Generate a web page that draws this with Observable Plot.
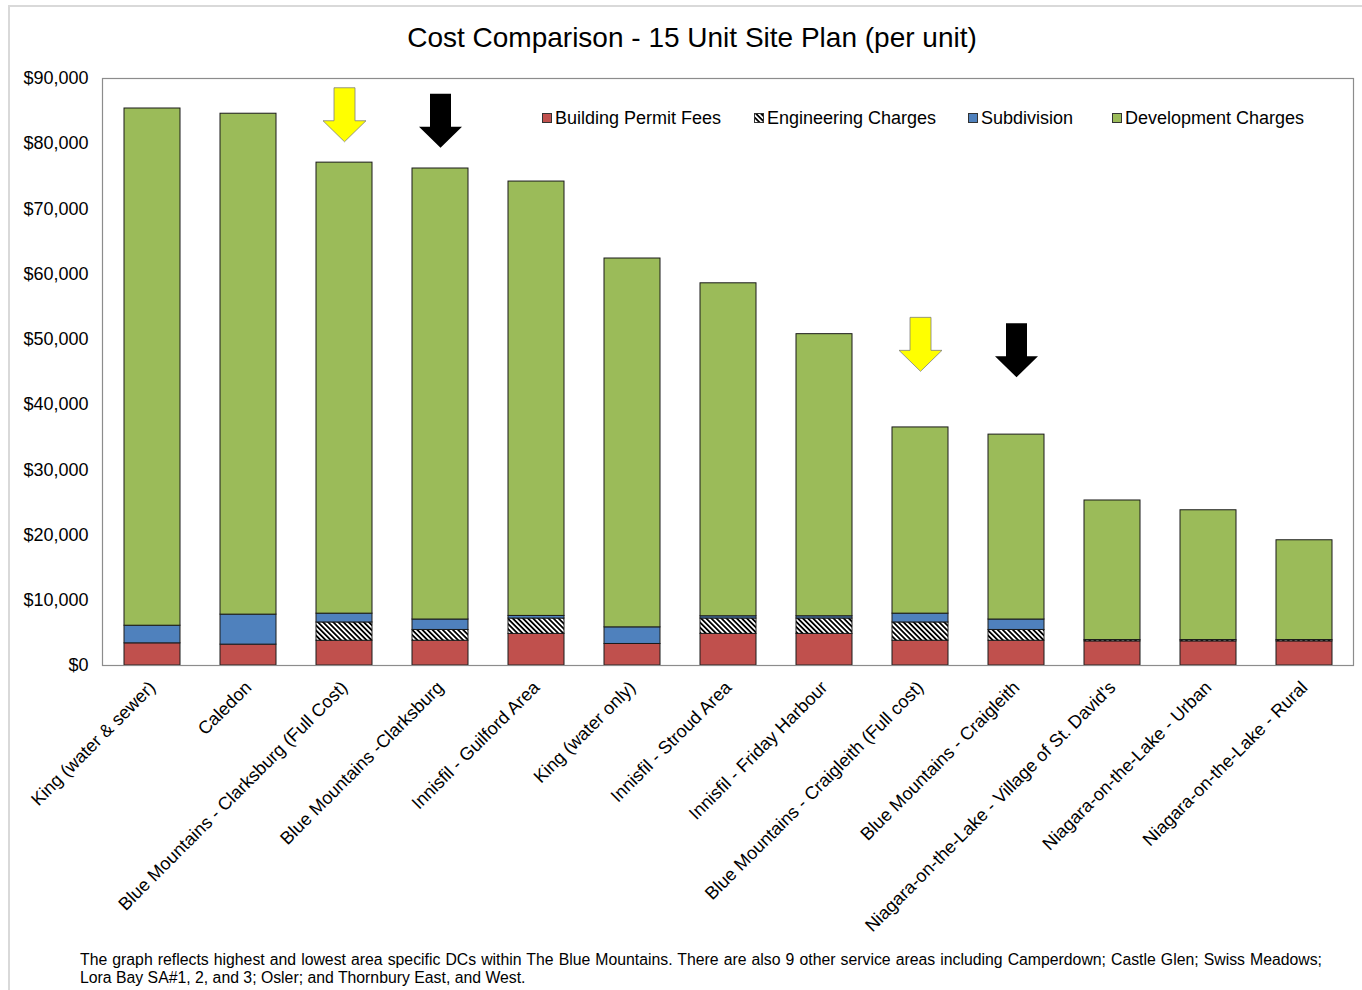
<!DOCTYPE html>
<html>
<head>
<meta charset="utf-8">
<script src="https://cdn.jsdelivr.net/npm/d3@7"></script>
<script src="https://cdn.jsdelivr.net/npm/@observablehq/plot@0.6"></script>
<style>
  html, body { margin: 0; padding: 0; background: #fff; }
  #wrap { position: relative; width: 1362px; height: 990px; overflow: hidden; font-family: "Liberation Sans", Arial, sans-serif; color: #000; }
  #border { position: absolute; left: 8px; top: 5px; width: 1360px; height: 990px; border-top: 2px solid #d9d9d9; border-left: 2px solid #d9d9d9; box-sizing: border-box; }
  #title { position: absolute; left: 0; width: 1384px; top: 22px; text-align: center; font-size: 28px; line-height: 32px; }
  #chart { position: absolute; left: 0; top: 0; }
  #legend { position: absolute; top: 108px; left: 0; height: 20px; font-size: 18px; }
  .item { position: absolute; top: 0; white-space: nowrap; line-height: 20px; display: flex; align-items: center; }
  .sw { width: 8px; height: 8px; border: 1px solid #333; margin-right: 3px; display: inline-block; box-sizing: content-box; }
  #caption { position: absolute; left: 80px; top: 951px; width: 1242px; font-size: 15.8px; line-height: 18px; }
  #caption .l1 { text-align: justify; text-align-last: justify; white-space: nowrap; }
</style>
</head>
<body>
<div id="wrap">
  <div id="border"></div>
  <div id="title"></div>
  <div id="chart"></div>
  <div id="legend"></div>
  <div id="caption"></div>
</div>
<script>
// ---- data ----
const categories = [
  "King (water & sewer)",
  "Caledon",
  "Blue Mountains - Clarksburg (Full Cost)",
  "Blue Mountains -Clarksburg",
  "Innisfil - Guilford Area",
  "King (water only)",
  "Innisfil - Stroud Area",
  "Innisfil - Friday Harbour",
  "Blue Mountains - Craigleith (Full cost)",
  "Blue Mountains - Craigleith",
  "Niagara-on-the-Lake - Village of St. David's",
  "Niagara-on-the-Lake - Urban",
  "Niagara-on-the-Lake - Rural"
];
const seriesNames = ["Building Permit Fees", "Engineering Charges", "Subdivision", "Development Charges"];
const buildingPermitFees = [3400, 3200, 3800, 3800, 4850, 3300, 4850, 4850, 3800, 3800, 3700, 3700, 3700];
const engineeringCharges = [0, 0, 2800, 1650, 2350, 0, 2350, 2350, 2800, 1650, 200, 200, 200];
const subdivision = [2700, 4600, 1350, 1600, 400, 2550, 350, 350, 1350, 1600, 0, 0, 0];
const developmentCharges = [79300, 76800, 69150, 69150, 66600, 56550, 51050, 43250, 28550, 28350, 21400, 19900, 15300];
const yTicks = [0, 10000, 20000, 30000, 40000, 50000, 60000, 70000, 80000, 90000];

// annotation arrows (tip position)
const arrowCategories = [
  "Blue Mountains - Clarksburg (Full Cost)",
  "Blue Mountains -Clarksburg",
  "Blue Mountains - Craigleith (Full cost)",
  "Blue Mountains - Craigleith"
];
const arrowTips = [80300, 79400, 45100, 44200];
const arrowKinds = ["yellow", "black", "yellow", "black"];

const titleText = "Cost Comparison - 15 Unit Site Plan (per unit)";
const captionLine1 = "The graph reflects highest and lowest area specific DCs within The Blue Mountains. There are also 9 other service areas including Camperdown; Castle Glen; Swiss Meadows;";
const captionLine2 = "Lora Bay SA#1, 2, and 3; Osler; and Thornbury East, and West.";

// ---- build table ----
const seriesValues = [buildingPermitFees, engineeringCharges, subdivision, developmentCharges];
const rows = [];
categories.forEach((c, i) => {
  seriesNames.forEach((s, j) => {
    rows.push({category: c, series: s, value: seriesValues[j][i]});
  });
});
const arrows = arrowCategories.map((c, i) => ({category: c, tip: arrowTips[i], kind: arrowKinds[i]}));

const seriesColors = ["#c0504d", "url(#hatch)", "#4f81bd", "#9bbb59"];

const arrowSymbol = {
  draw(ctx) {
    const hw = 21.5, sw = 10.5, hh = 21, sh = 33;
    ctx.moveTo(0, 0);
    ctx.lineTo(-hw, -hh);
    ctx.lineTo(-sw, -hh);
    ctx.lineTo(-sw, -hh - sh);
    ctx.lineTo(sw, -hh - sh);
    ctx.lineTo(sw, -hh);
    ctx.lineTo(hw, -hh);
    ctx.closePath();
  }
};

const W = 1362, H = 940;
const chart = Plot.plot({
  width: W,
  height: H,
  marginTop: 78,
  marginBottom: H - 665,
  marginLeft: 102,
  marginRight: W - 1353,
  style: {fontFamily: "'Liberation Sans', Arial, sans-serif", fontSize: "18px", color: "#000", background: "transparent", overflow: "visible"},
  x: {domain: categories, paddingInner: 0.42, paddingOuter: 0.21},
  y: {domain: [0, 90000]},
  color: {domain: seriesNames, range: seriesColors},
  marks: [
    Plot.barY(rows.filter(d => d.value > 0), Plot.stackY({
      x: "category",
      y: "value",
      z: "series",
      fill: "series",
      order: seriesNames,
      stroke: "#1a1a1a",
      strokeWidth: 1
    })),
    Plot.frame({stroke: "#8c8c8c", strokeWidth: 1.2}),
    Plot.axisY({ticks: yTicks, tickSize: 0, tickPadding: 14, label: null, fontSize: 18,
      tickFormat: d => "$" + d3.format(",")(d)}),
    Plot.axisX({tickSize: 0, tickRotate: -45, tickPadding: 19, label: null, fontSize: 18}),
    Plot.dot(arrows.filter(d => d.kind === "yellow"), {x: "category", y: "tip", symbol: arrowSymbol, r: 10, fill: "#ffff00", stroke: "#7f7f7f", strokeWidth: 0.8}),
    Plot.dot(arrows.filter(d => d.kind === "black"), {x: "category", y: "tip", symbol: arrowSymbol, r: 10, fill: "#000000", stroke: "none"})
  ]
});

// hatch pattern definition
const svg = d3.select(chart);
const defs = svg.insert("defs", ":first-child");
const pat = defs.append("pattern")
  .attr("id", "hatch")
  .attr("patternUnits", "userSpaceOnUse")
  .attr("width", 3.6)
  .attr("height", 3.6)
  .attr("patternTransform", "rotate(-45)");
pat.append("rect").attr("width", 3.6).attr("height", 3.6).attr("fill", "#ffffff");
pat.append("rect").attr("width", 1.8).attr("height", 3.6).attr("fill", "#000000");

document.getElementById("chart").appendChild(chart);
document.getElementById("title").textContent = titleText;

// legend
const legendX = [542, 754, 968, 1112];
const legend = document.getElementById("legend");
seriesNames.forEach((s, i) => {
  const item = document.createElement("div");
  item.className = "item";
  item.style.left = legendX[i] + "px";
  let sw;
  if (i === 1) {
    sw = document.createElementNS("http://www.w3.org/2000/svg", "svg");
    sw.setAttribute("width", 10); sw.setAttribute("height", 10);
    sw.style.marginRight = "3px";
    const r = document.createElementNS("http://www.w3.org/2000/svg", "rect");
    r.setAttribute("x", 0.5); r.setAttribute("y", 0.5); r.setAttribute("width", 9); r.setAttribute("height", 9);
    r.setAttribute("fill", "url(#hatch)"); r.setAttribute("stroke", "#333");
    sw.appendChild(r);
  } else {
    sw = document.createElement("span");
    sw.className = "sw";
    sw.style.background = seriesColors[i];
  }
  const t = document.createElement("span");
  t.textContent = s;
  item.appendChild(sw);
  item.appendChild(t);
  legend.appendChild(item);
});

// caption
const cap = document.getElementById("caption");
const l1 = document.createElement("div"); l1.className = "l1"; l1.textContent = captionLine1;
const l2 = document.createElement("div"); l2.textContent = captionLine2;
cap.appendChild(l1); cap.appendChild(l2);
</script>
</body>
</html>
